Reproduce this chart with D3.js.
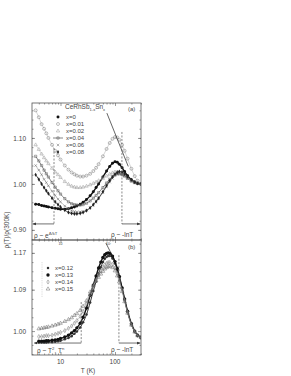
<!DOCTYPE html>
<html>
<head>
<meta charset="utf-8">
<script src="https://cdn.jsdelivr.net/npm/d3@7"></script>
<style>
  body { margin: 0; background: #fff; }
  text { font-family: "Liberation Sans", Arial, sans-serif; fill: #444; }
</style>
</head>
<body>
<svg id="chart"></svg>
<script>
// temperatures (K) of the read-off points
var Ta = [3.5, 4, 4.5, 5, 5.5, 6, 7, 8, 9, 10, 12, 14, 16, 18, 20, 23, 26, 30, 35, 40, 45, 50, 60, 70, 80, 90, 100, 110, 120, 135, 150, 170, 200, 230, 260, 300];
var Tb = [4, 4.5, 5, 5.5, 6, 7, 8, 9, 10, 12, 14, 16, 18, 20, 23, 26, 30, 35, 40, 45, 50, 55, 60, 65, 70, 75, 80, 90, 100, 110, 120, 135, 150, 170, 200, 230, 260, 300];

// panel (a): rho(T)/rho(300K)
var a_x0   = [0.956,0.955,0.953,0.952,0.951,0.950,0.948,0.947,0.946,0.945,0.945,0.946,0.948,0.950,0.952,0.956,0.960,0.966,0.974,0.983,0.992,1.000,1.015,1.028,1.038,1.045,1.048,1.047,1.043,1.035,1.027,1.018,1.009,1.004,1.001,1.000];
var a_x001 = [1.160,1.145,1.130,1.120,1.110,1.100,1.085,1.072,1.062,1.053,1.040,1.031,1.025,1.021,1.018,1.016,1.016,1.018,1.022,1.028,1.035,1.043,1.060,1.076,1.089,1.098,1.102,1.101,1.096,1.085,1.072,1.055,1.033,1.017,1.007,1.000];
var a_x002 = [1.085,1.075,1.065,1.057,1.050,1.044,1.034,1.026,1.020,1.014,1.005,0.999,0.995,0.993,0.992,0.992,0.993,0.995,0.998,1.001,1.004,1.007,1.012,1.017,1.021,1.024,1.026,1.026,1.025,1.022,1.018,1.013,1.007,1.003,1.001,1.000];
var a_x004 = [1.060,1.050,1.040,1.030,1.022,1.015,1.003,0.993,0.985,0.978,0.968,0.961,0.957,0.955,0.954,0.954,0.955,0.958,0.963,0.969,0.975,0.981,0.992,1.002,1.010,1.016,1.020,1.022,1.022,1.020,1.017,1.012,1.006,1.003,1.001,1.000];
var a_x006 = [1.040,1.030,1.020,1.010,1.003,0.996,0.984,0.975,0.967,0.961,0.952,0.946,0.942,0.940,0.939,0.939,0.940,0.943,0.948,0.954,0.961,0.968,0.981,0.994,1.004,1.012,1.018,1.021,1.022,1.021,1.018,1.013,1.007,1.003,1.001,1.000];
var a_x008 = [1.020,1.010,1.000,0.992,0.985,0.979,0.969,0.961,0.955,0.950,0.943,0.938,0.936,0.935,0.935,0.936,0.938,0.942,0.948,0.955,0.962,0.969,0.983,0.996,1.007,1.015,1.021,1.025,1.027,1.026,1.022,1.016,1.009,1.004,1.001,1.000];

// panel (b)
var b_x012 = [0.975,0.975,0.975,0.975,0.976,0.976,0.977,0.978,0.979,0.982,0.985,0.989,0.994,0.999,1.008,1.019,1.036,1.062,1.087,1.108,1.125,1.139,1.150,1.157,1.161,1.163,1.163,1.158,1.147,1.133,1.117,1.092,1.068,1.042,1.015,0.999,0.990,0.985];
var b_x013 = [0.978,0.978,0.978,0.979,0.979,0.980,0.981,0.982,0.984,0.987,0.991,0.996,1.001,1.007,1.017,1.030,1.050,1.078,1.100,1.120,1.137,1.150,1.160,1.166,1.169,1.170,1.169,1.163,1.151,1.136,1.119,1.094,1.070,1.043,1.016,1.000,0.991,0.986];
var b_x014 = [0.988,0.988,0.989,0.990,0.990,0.991,0.993,0.995,0.997,1.001,1.006,1.011,1.017,1.023,1.032,1.043,1.059,1.080,1.097,1.111,1.122,1.131,1.139,1.144,1.147,1.149,1.149,1.145,1.137,1.125,1.111,1.089,1.067,1.041,1.014,0.999,0.990,0.986];
var b_x015 = [1.005,1.006,1.007,1.008,1.009,1.011,1.013,1.015,1.017,1.021,1.025,1.029,1.034,1.038,1.045,1.054,1.066,1.085,1.099,1.109,1.117,1.124,1.130,1.135,1.138,1.140,1.141,1.138,1.131,1.120,1.107,1.086,1.064,1.039,1.013,0.998,0.990,0.986];

var legendA = ["x=0", "x=0.01", "x=0.02", "x=0.04", "x=0.06", "x=0.08"];
var legendB = ["x=0.12", "x=0.13", "x=0.14", "x=0.15"];
var yTicksA = [0.90, 1.00, 1.10];
var yTicksB = [1.00, 1.09, 1.17];
var xTicks = [10, 100];

var width = 291, height = 376;
var svg = d3.select("#chart").attr("width", width).attr("height", height);

var left = 32, right = 141;
var x = d3.scaleLog().domain([3, 300]).range([left, right]);
var ya = d3.scaleLinear().domain([0.878, 1.176]).range([240, 103]);
var yb = d3.scaleLinear().domain([0.948, 1.198]).range([355, 240]);

var minorX = [4,5,6,7,8,9,20,30,40,50,60,70,80,90,200,300];

// series styles
var stylesA = [
  {sym: d3.symbolCircle, size: 7, fill: "#111", stroke: "none", line: "#111", lw: 1.4},
  {sym: d3.symbolCircle, size: 7, fill: "none", stroke: "#777", line: "#aaa", lw: 0.5},
  {sym: d3.symbolTriangle, size: 5, fill: "none", stroke: "#999", line: "#bbb", lw: 0.5},
  {sym: d3.symbolSquare, size: 5, fill: "none", stroke: "#555", line: "#555", lw: 0.7},
  {sym: d3.symbolTimes, size: 5, fill: "none", stroke: "#666", line: "#888", lw: 0.5},
  {sym: d3.symbolDiamond, size: 5, fill: "#222", stroke: "none", line: "#333", lw: 0.9}
];
var stylesB = [
  {sym: d3.symbolCircle, size: 5, fill: "#333", stroke: "none", line: "#333", lw: 1.0},
  {sym: d3.symbolCircle, size: 9, fill: "#111", stroke: "none", line: "#111", lw: 1.4},
  {sym: d3.symbolDiamond, size: 5, fill: "none", stroke: "#777", line: "#999", lw: 0.5},
  {sym: d3.symbolTriangle, size: 6, fill: "none", stroke: "#666", line: "#999", lw: 0.5}
];

function drawPanel(y, yTicks, minorY, T, series, styles, clipId) {
  var g = svg.append("g");
  g.append("clipPath").attr("id", clipId).append("rect")
    .attr("x", left).attr("y", y.range()[1])
    .attr("width", right - left).attr("height", y.range()[0] - y.range()[1]);

  var data = g.append("g").attr("clip-path", "url(#" + clipId + ")");
  series.forEach(function(vals, i) {
    var st = styles[i];
    var pts = T.map(function(t, j) { return [t, vals[j]]; });
    data.append("path").datum(pts)
      .attr("d", d3.line().x(function(d){ return x(d[0]); }).y(function(d){ return y(d[1]); }).curve(d3.curveMonotoneX))
      .attr("fill", "none").attr("stroke", st.line).attr("stroke-width", st.lw);
    data.selectAll(null).data(pts).enter().append("path")
      .attr("transform", function(d){ return "translate(" + x(d[0]) + "," + y(d[1]) + ")"; })
      .attr("d", d3.symbol().type(st.sym).size(st.size))
      .attr("fill", st.fill).attr("stroke", st.stroke).attr("stroke-width", 0.5);
  });

  // axes, ticks pointing inwards
  var y0 = y.range()[0], y1 = y.range()[1];
  g.append("g").attr("transform", "translate(" + left + ",0)")
    .call(d3.axisLeft(y).tickValues(yTicks).tickSize(-3).tickPadding(6).tickFormat(d3.format(".2f")));
  g.append("g").attr("transform", "translate(" + left + ",0)")
    .call(d3.axisLeft(y).tickValues(minorY).tickSize(-1.5).tickFormat(""));
  g.append("g").attr("transform", "translate(" + right + ",0)")
    .call(d3.axisRight(y).tickValues(yTicks).tickSize(-3).tickFormat(""));
  g.append("g").attr("transform", "translate(" + right + ",0)")
    .call(d3.axisRight(y).tickValues(minorY).tickSize(-1.5).tickFormat(""));
  g.append("g").attr("transform", "translate(0," + y0 + ")")
    .call(d3.axisBottom(x).tickValues(xTicks).tickSize(-3).tickFormat(""));
  g.append("g").attr("transform", "translate(0," + y0 + ")")
    .call(d3.axisBottom(x).tickValues(minorX).tickSize(-1.5).tickFormat(""));
  g.append("g").attr("transform", "translate(0," + y1 + ")")
    .call(d3.axisTop(x).tickValues(xTicks).tickSize(-3).tickFormat(""));
  g.append("g").attr("transform", "translate(0," + y1 + ")")
    .call(d3.axisTop(x).tickValues(minorX).tickSize(-1.5).tickFormat(""));

  g.selectAll(".domain").remove();
  g.selectAll(".tick line").attr("stroke", "#555").attr("stroke-width", 0.6);
  g.selectAll(".tick text").attr("font-size", 6.5).attr("fill", "#444");

  g.append("rect").attr("x", left).attr("y", y1)
    .attr("width", right - left).attr("height", y0 - y1)
    .attr("fill", "none").attr("stroke", "#555").attr("stroke-width", 0.8);
  return g;
}

var minorA = d3.range(0.88, 1.18, 0.02).map(function(v){ return +v.toFixed(2); });
var minorB = d3.range(0.95, 1.20, 0.02).map(function(v){ return +v.toFixed(2); });

var ga = drawPanel(ya, yTicksA, minorA, Ta, [a_x0, a_x001, a_x002, a_x004, a_x006, a_x008], stylesA, "clipA");
var gb = drawPanel(yb, yTicksB, minorB, Tb, [b_x012, b_x013, b_x014, b_x015], stylesB, "clipB");

// arrow marker
var defs = svg.append("defs");
defs.append("marker").attr("id", "arr").attr("viewBox", "0 0 10 10")
  .attr("refX", 9).attr("refY", 5).attr("markerWidth", 5).attr("markerHeight", 5)
  .attr("orient", "auto-start-reverse")
  .append("path").attr("d", "M0,1 L10,5 L0,9 z").attr("fill", "#333");

function dashed(g, T, y, v0, v1) {
  g.append("line").attr("x1", x(T)).attr("x2", x(T)).attr("y1", y(v0)).attr("y2", y(v1))
    .attr("stroke", "#555").attr("stroke-width", 0.7).attr("stroke-dasharray", "2,1.5");
}
function arrow(g, T0, T1, yy) {
  g.append("line").attr("x1", x(T0)).attr("x2", x(T1)).attr("y1", yy).attr("y2", yy)
    .attr("stroke", "#333").attr("stroke-width", 0.7).attr("marker-end", "url(#arr)");
}
function slope(g, y, T0, v0, T1, v1) {
  g.append("line").attr("x1", x(T0)).attr("y1", y(v0)).attr("x2", x(T1)).attr("y2", y(v1))
    .attr("stroke", "#222").attr("stroke-width", 0.7);
}

// panel (a) annotations
slope(ga, ya, 71, 1.154, 175, 1.038);
dashed(ga, 7.6, ya, 1.078, 0.913);
dashed(ga, 134, ya, 1.113, 0.913);
arrow(ga, 7.6, 3.1, ya(0.913));
arrow(ga, 134, 290, ya(0.913));

var t1 = ga.append("text").attr("x", 65).attr("y", 109).attr("font-size", 6.5);
t1.append("tspan").text("CeRhSb");
t1.append("tspan").attr("font-size", 4).attr("dy", 1.8).text("1-x");
t1.append("tspan").attr("dy", -1.8).text("Sn");
t1.append("tspan").attr("font-size", 4).attr("dy", 1.8).text("x");
ga.append("text").attr("x", 128).attr("y", 111).attr("font-size", 6).text("(a)");

var e1 = ga.append("text").attr("x", 34).attr("y", 238).attr("font-size", 6.5);
e1.append("tspan").text("\u03c1 ~ e");
e1.append("tspan").attr("font-size", 4.2).attr("dy", -3).text("\u0394/kT");
ga.append("text").attr("x", 111).attr("y", 237).attr("font-size", 6.5).text("\u03c1 ~ -lnT");

// tiny leftover labels of panel (a) x axis
ga.append("text").attr("x", x(10)).attr("y", 245).attr("text-anchor", "middle")
  .attr("font-size", 3.5).attr("fill", "#999").text("10");
ga.append("text").attr("x", x(10) + 48).attr("y", 245).attr("text-anchor", "middle")
  .attr("font-size", 3.5).attr("fill", "#999").text("10\u00b2");

// legend (a)
legendA.forEach(function(lab, i) {
  var st = stylesA[i], cy = 117 + i * 7;
  if (i === 3) {
    ga.append("line").attr("x1", 53).attr("x2", 63).attr("y1", cy).attr("y2", cy)
      .attr("stroke", "#555").attr("stroke-width", 0.7);
  }
  ga.append("path").attr("transform", "translate(58," + cy + ")")
    .attr("d", d3.symbol().type(st.sym).size(st.size))
    .attr("fill", st.fill).attr("stroke", st.stroke).attr("stroke-width", 0.5);
  ga.append("text").attr("x", 66).attr("y", cy + 2.2).attr("font-size", 6).text(lab);
});

// panel (b) annotations
slope(gb, yb, 68, 1.1915, 92, 1.161);
dashed(gb, 24, yb, 1.063, 0.974);
dashed(gb, 118, yb, 1.165, 0.974);
arrow(gb, 24, 3.3, yb(0.974));
arrow(gb, 118, 290, yb(0.974));
gb.append("text").attr("x", 128).attr("y", 249).attr("font-size", 6).text("(b)");

var e2 = gb.append("text").attr("x", 37).attr("y", 353).attr("font-size", 6.5);
e2.append("tspan").text("\u03c1 ~ T");
e2.append("tspan").attr("font-size", 4.2).attr("dy", -3).text("2");
e2.append("tspan").attr("dy", 3).text(", T");
e2.append("tspan").attr("font-size", 4.2).attr("dy", -3).text("n");
gb.append("text").attr("x", 111).attr("y", 352).attr("font-size", 6.5).text("\u03c1 ~ -lnT");

gb.append("line").attr("x1", 42).attr("x2", 42).attr("y1", 262).attr("y2", 297)
  .attr("stroke", "#aaa").attr("stroke-width", 0.5).attr("stroke-dasharray", "0.8,1");

legendB.forEach(function(lab, i) {
  var st = stylesB[i], cy = 268 + i * 7;
  gb.append("path").attr("transform", "translate(48," + cy + ")")
    .attr("d", d3.symbol().type(st.sym).size(st.size))
    .attr("fill", st.fill).attr("stroke", st.stroke).attr("stroke-width", 0.5);
  gb.append("text").attr("x", 55).attr("y", cy + 2.2).attr("font-size", 6).text(lab);
});

// x tick labels and axis titles
svg.selectAll(".xlab").data(xTicks).enter().append("text")
  .attr("x", function(d){ return x(d); }).attr("y", 364)
  .attr("text-anchor", "middle").attr("font-size", 6.5).text(function(d){ return d; });
svg.append("text").attr("x", 88).attr("y", 373).attr("text-anchor", "middle")
  .attr("font-size", 6.5).text("T (K)");
svg.append("text").attr("transform", "translate(9,230) rotate(-90)")
  .attr("text-anchor", "middle").attr("font-size", 6.5).text("\u03c1(T)/\u03c1(300K)");
</script>
</body>
</html>
